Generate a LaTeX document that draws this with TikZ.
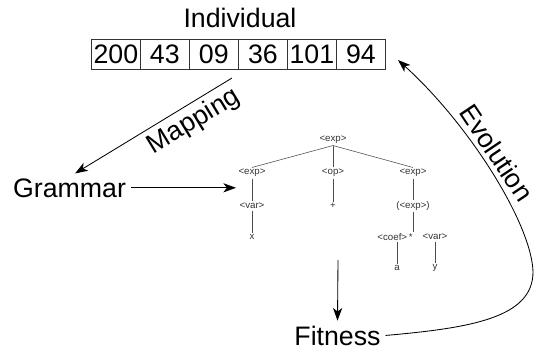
\documentclass[tikz,border=0pt]{standalone}
\usepackage{fontspec}
\setmainfont{Liberation Sans}
\usetikzlibrary{positioning,arrows.meta}

\tikzset{
  big/.style={font=\fontsize{19}{22}\selectfont},
  gene/.style={draw=black!80, big, minimum width=1.225cm, minimum height=0.75cm, inner sep=0pt, line width=0.5pt},
  sym/.style={font=\fontsize{6.9}{8}\selectfont, text=black!80, inner sep=1pt},
  flow/.style={-{Stealth[length=9pt,width=6.5pt,inset=2.5pt]}, line width=0.6pt},
  branch/.style={black!70, line width=0.4pt},
}

\begin{document}
\begin{tikzpicture}[x=0.025cm, y=-0.025cm]
    \useasboundingbox (0,0) rectangle (534,350);
    % genome
    \node[big, anchor=base] (indiv) at (240,27) {Individual};
    \foreach \v [count=\i] in {200,43,09,36,101,94}
        \node[gene, anchor=west] (g\i) at (91+49*\i-49,54) {\v};
    \node[big, anchor=base] (gram) at (69.5,197) {Grammar};
    \node[big, anchor=base] (fit) at (337.5,345) {Fitness};
    % derivation tree
    \node[sym] (e0) at (333,140) {<exp>};
    \node[sym] (e1) at (252,173) {<exp>};
    \node[sym] (op) at (333,173) {<op>};
    \node[sym] (e2) at (413,173) {<exp>};
    \node[sym] (v1) at (252,206) {<var>};
    \node[sym] (plus) at (333,206) {+};
    \node[sym] (e3) at (413,206) {(<exp>)};
    \node[sym] (x) at (252,237) {x};
    \node[sym] (coef) at (395,237) {<coef>\,*};
    \node[sym] (v2) at (435,237) {<var>};
    \node[sym] (a) at (397,268) {a};
    \node[sym] (y) at (435,268) {y};
    \draw[branch] (e0.south) -- (e1.north);
    \draw[branch] (e0.south) -- (op.north);
    \draw[branch] (e0.south) -- (e2.north);
    \draw[branch] (e1) -- (v1);
    \draw[branch] (op) -- (plus);
    \draw[branch] (e2) -- (e3);
    \draw[branch] (v1) -- (x);
    \draw[branch] (e3.south) -- (e3.south |- coef.north);
    \draw[branch] (a.north |- coef.south) -- (a.north);
    \draw[branch] (v2) -- (y);
    % arrows
    \coordinate (mapfrom) at (232,78);
    \coordinate (treein) at (236,189);
    \coordinate (treeout) at (338,260);
    \coordinate (evoto) at (398,60);
    \draw[flow] (mapfrom) -- node[big, sloped, below, pos=0.3] {Mapping} ([xshift=4pt]gram.north);
    \draw[flow] (gram.east) -- (gram.east -| treein);
    \draw[flow] (treeout) -- (fit.north);
    \draw[flow] (fit.east) .. controls (470,328) and (533,318) .. (533,272)
        .. controls (532,225) and (470,125) .. node[big, sloped, above, pos=0.55] {Evolution} (evoto);
\end{tikzpicture}
\end{document}
